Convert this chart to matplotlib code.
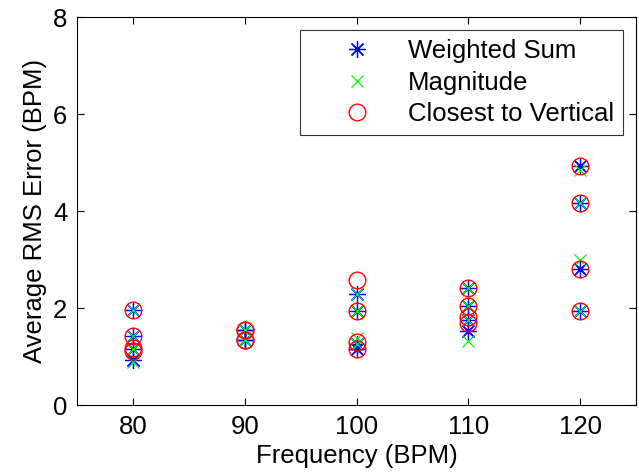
import numpy as np
import matplotlib

matplotlib.use("Agg")
import matplotlib.pyplot as plt

plt.rcParams["font.family"] = ["Liberation Sans", "DejaVu Sans"]

# -- Data ---------------------------------------------------------------------
freqs = [80, 90, 100, 110, 120]

weighted_sum = [
    [1.97, 1.43, 1.15, 0.92],
    [1.55, 1.55, 1.35, 1.35],
    [2.30, 1.94, 1.25, 1.15],
    [2.42, 2.05, 1.75, 1.52],
    [4.92, 4.17, 2.80, 1.95],
]
magnitude = [
    [1.97, 1.43, 1.15, 0.88],
    [1.55, 1.55, 1.35, 1.35],
    [2.30, 1.94, 1.38, 1.25],
    [2.42, 2.05, 1.75, 1.32],
    [4.85, 4.17, 3.00, 1.95],
]
closest_vertical = [
    [1.97, 1.43, 1.17, 1.12],
    [1.55, 1.55, 1.35, 1.35],
    [2.57, 1.94, 1.30, 1.15],
    [2.42, 2.05, 1.82, 1.70],
    [4.92, 4.17, 2.80, 1.95],
]


def flatten(vals):
    xs, ys = [], []
    for f, row in zip(freqs, vals):
        for v in row:
            xs.append(f)
            ys.append(v)
    return xs, ys


FS = 18.5

fig = plt.figure(figsize=(6.39, 4.76), dpi=100)
ax = fig.add_axes([0.1205, 0.149, 0.875, 0.815])

x, y = flatten(weighted_sum)
ax.plot(x, y, linestyle="none", marker=(8, 2, 0), markersize=12,
        markeredgewidth=0.9, color=(0, 0, 1), label="Weighted Sum")
x, y = flatten(magnitude)
ax.plot(x, y, linestyle="none", marker="x", markersize=9,
        markeredgewidth=0.9, color=(0, 1, 0), label="Magnitude")
x, y = flatten(closest_vertical)
ax.plot(x, y, linestyle="none", marker="o", markersize=12,
        markeredgewidth=1.0, markerfacecolor="none", color=(1, 0, 0),
        label="Closest to Vertical")

ax.set_xlim(75, 125)
ax.set_ylim(0, 8)
ax.set_xticks(freqs)
ax.set_yticks([0, 2, 4, 6, 8])
ax.tick_params(direction="in", top=True, right=True, labelsize=FS,
               length=5, width=0.8, pad=7)
for s in ax.spines.values():
    s.set_linewidth(0.8)

ax.set_xlabel("Frequency (BPM)", fontsize=FS, labelpad=4)
ax.set_ylabel("Average RMS Error (BPM)", fontsize=FS, labelpad=4)

leg = ax.legend(loc="upper right", fontsize=FS, frameon=True, fancybox=False,
                edgecolor="black", borderaxespad=0.5, handlelength=3.7,
                handletextpad=0.15, labelspacing=0.3, borderpad=0.35)
leg.get_frame().set_linewidth(0.8)

plt.savefig("out.png", dpi=100)
plt.close()
